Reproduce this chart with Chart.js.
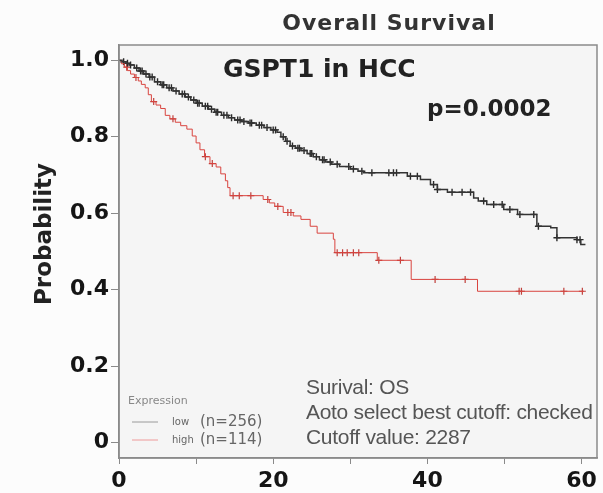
<!DOCTYPE html>
<html>
<head>
<meta charset="utf-8">
<script src="https://cdn.jsdelivr.net/npm/chart.js@4.4.1/dist/chart.umd.min.js"></script>
<style>
  html, body { margin: 0; padding: 0; background: #fcfcfc; }
</style>
</head>
<body>
<canvas id="myChart" width="603" height="493"></canvas>
<script>
// low expression group (n=256): step times (months) and survival after each step
var lowTimes = [0, 0.4, 0.9, 1.4, 2.0, 2.6, 3.2, 3.9, 4.6, 5.4, 6.2, 7.0, 7.8, 8.6, 9.3, 10.0, 10.8, 11.6, 12.4, 13.3,
  14.2, 15.0, 15.9, 16.8, 17.8, 18.8, 19.7, 20.5, 21.0, 21.6, 22.2, 22.9, 23.6, 24.4, 25.2, 26.0, 26.8, 27.6, 28.6, 30.0,
  31.0, 31.7, 37.4, 39.1, 40.4, 41.3, 42.6, 46.0, 46.6, 47.7, 49.9, 51.7, 54.2, 56.0, 56.8, 59.4, 59.9, 60.5];
var lowSurv = [1.0, 0.996, 0.992, 0.988, 0.980, 0.972, 0.964, 0.956, 0.944, 0.936, 0.928, 0.920, 0.912, 0.904, 0.896, 0.888, 0.880, 0.872, 0.864, 0.856,
  0.850, 0.844, 0.840, 0.836, 0.830, 0.824, 0.818, 0.812, 0.800, 0.788, 0.776, 0.770, 0.764, 0.756, 0.748, 0.740, 0.734, 0.728, 0.722, 0.716,
  0.710, 0.706, 0.697, 0.688, 0.675, 0.662, 0.655, 0.640, 0.632, 0.623, 0.610, 0.597, 0.566, 0.562, 0.536, 0.531, 0.518, 0.518];
var lowCensor = [0.6, 1.1, 1.5, 2.3, 2.8, 3.0, 3.5, 4.0, 4.3, 5.0, 5.6, 5.8, 6.5, 6.8, 7.4, 8.2, 8.5, 9.0, 9.7, 10.2, 10.4,
  11.2, 11.5, 12.0, 12.6, 12.8, 13.6, 14.0, 14.6, 15.4, 15.7, 16.2, 17.0, 17.2, 18.2, 18.5, 19.2, 20.0, 20.3, 21.3, 21.8,
  22.5, 23.2, 23.4, 24.0, 24.8, 25.0, 25.6, 26.4, 26.6, 27.4, 28.3, 29.8, 30.4, 31.5, 32.8, 35.0, 35.6, 36.0,
  37.8, 38.7, 40.8, 41.3, 43.2, 44.5, 45.6, 47.3, 48.6, 49.7, 50.7, 52.0, 53.8, 54.4, 56.8, 59.4, 59.8];

// high expression group (n=114)
var highTimes = [0, 0.3, 0.7, 1.1, 1.5, 2.0, 2.5, 2.9, 3.4, 3.8, 4.2, 4.8, 5.4, 6.0, 6.6, 7.3, 8.0, 8.8, 9.5, 10.0,
  10.5, 11.1, 11.8, 12.6, 13.2, 13.8, 14.1, 14.4, 18.7, 19.5, 20.2, 21.3, 22.6, 23.6, 24.8, 25.7, 27.8, 28.0, 33.5, 37.9,
  46.5, 60.3];
var highSurv = [1.0, 0.991, 0.982, 0.973, 0.964, 0.955, 0.946, 0.937, 0.928, 0.910, 0.892, 0.883, 0.874, 0.856, 0.847, 0.838, 0.829, 0.820, 0.802, 0.784,
  0.766, 0.748, 0.730, 0.721, 0.703, 0.685, 0.667, 0.646, 0.636, 0.627, 0.618, 0.602, 0.593, 0.584, 0.566, 0.548, 0.532, 0.497, 0.477, 0.427,
  0.396, 0.396];
var highCensor = [1.0, 2.2, 4.5, 7.0, 11.2, 12.1, 14.8, 15.6, 17.1, 19.3, 20.6, 21.9, 22.3, 28.3, 29.0, 29.6, 30.4, 31.1, 33.7, 36.5,
  41.0, 44.9, 51.9, 52.2, 57.7, 60.1];

var xTicks = [0, 10, 20, 30, 40, 50, 60];
var xTickLabels = ['0', '', '20', '', '40', '', '60'];
var yTicks = [0, 0.2, 0.4, 0.6, 0.8, 1.0];
var yTickLabels = ['0', '0.2', '0.4', '0.6', '0.8', '1.0'];

function survAt(times, surv, t) {
  var s = surv[0];
  for (var i = 0; i < times.length; i++) {
    if (times[i] <= t) s = surv[i];
  }
  return s;
}
function curve(times, surv) {
  return times.map(function (t, i) { return { x: t, y: surv[i] }; });
}
function marks(censor, times, surv) {
  return censor.map(function (t) { return { x: t, y: survAt(times, surv, t) }; });
}

var decor = {
  id: 'decor',
  beforeDraw: function (chart) {
    var c = chart.ctx, a = chart.chartArea;
    c.save();
    c.fillStyle = '#fcfcfc';
    c.fillRect(0, 0, chart.width, chart.height);
    c.fillStyle = '#f5f5f5';
    c.fillRect(a.left, a.top, a.right - a.left, a.bottom - a.top);
    c.restore();
  },
  afterDraw: function (chart) {
    var c = chart.ctx, a = chart.chartArea;
    c.save();
    // box
    c.strokeStyle = '#8a8a8a';
    c.lineWidth = 1.5;
    c.strokeRect(a.left, a.top, a.right - a.left, a.bottom - a.top);

    c.textBaseline = 'middle';
    // main title
    c.fillStyle = '#333';
    c.font = 'bold 22px "DejaVu Sans"';
    c.letterSpacing = '1px';
    c.textAlign = 'center';
    c.fillText('Overall Survival', 389, 24);
    c.letterSpacing = '0px';

    c.textAlign = 'left';
    c.fillStyle = '#222';
    c.font = 'bold 25px "DejaVu Sans"';
    c.fillText('GSPT1 in HCC', 223, 70);
    c.font = 'bold 23px "DejaVu Sans"';
    c.fillText('p=0.0002', 427, 110);

    // y axis title
    c.save();
    c.translate(45, 234);
    c.rotate(-Math.PI / 2);
    c.textAlign = 'center';
    c.font = 'bold 23px "DejaVu Sans"';
    c.fillStyle = '#222';
    c.fillText('Probability', 0, 0);
    c.restore();

    // notes
    c.fillStyle = '#555';
    c.font = '21px "Liberation Sans"';
    c.letterSpacing = '-0.3px';
    c.fillText('Surival: OS', 306, 388);
    c.fillText('Aoto select best cutoff: checked', 306, 413);
    c.fillText('Cutoff value: 2287', 306, 438);
    c.letterSpacing = '0px';

    // legend
    c.fillStyle = '#888';
    c.font = '11px "DejaVu Sans"';
    c.fillText('Expression', 128, 401);
    c.lineWidth = 1;
    c.strokeStyle = '#9a9a9a';
    c.beginPath(); c.moveTo(132, 422); c.lineTo(158, 422); c.stroke();
    c.strokeStyle = '#ee9a9a';
    c.beginPath(); c.moveTo(132, 440); c.lineTo(158, 440); c.stroke();
    c.fillStyle = '#666';
    c.font = '10px "DejaVu Sans"';
    c.fillText('low', 172, 422);
    c.fillText('high', 172, 440);
    c.font = '15px "DejaVu Sans"';
    c.fillText('(n=256)', 200, 422);
    c.fillText('(n=114)', 200, 440);
    c.restore();
  }
};

var ctx = document.getElementById('myChart');
var chart = new Chart(ctx, {
  type: 'scatter',
  data: {
    datasets: [{
      data: curve(lowTimes, lowSurv),
      showLine: true,
      stepped: true,
      borderColor: '#333',
      borderWidth: 1.5,
      pointRadius: 0
    }, {
      data: curve(highTimes, highSurv),
      showLine: true,
      stepped: true,
      borderColor: '#d9443f',
      borderWidth: 1,
      pointRadius: 0
    }, {
      data: marks(lowCensor, lowTimes, lowSurv),
      pointStyle: 'cross',
      pointRadius: 3.5,
      borderColor: '#2a2a2a',
      borderWidth: 1.4
    }, {
      data: marks(highCensor, highTimes, highSurv),
      pointStyle: 'cross',
      pointRadius: 3.5,
      borderColor: '#c0403c',
      borderWidth: 1.2
    }]
  },
  plugins: [decor],
  options: {
    responsive: false,
    animation: false,
    events: [],
    layout: { padding: { top: 45, right: 6, left: 0, bottom: 0 } },
    plugins: {
      legend: { display: false },
      title: { display: false },
      tooltip: { enabled: false }
    },
    scales: {
      x: {
        type: 'linear',
        min: 0,
        max: 62,
        afterBuildTicks: function (s) { s.ticks = xTicks.map(function (v) { return { value: v }; }); },
        afterFit: function (s) { s.height = 35; },
        ticks: {
          autoSkip: false,
          maxRotation: 0,
          padding: 4,
          color: '#151515',
          font: { family: 'DejaVu Sans', weight: 'bold', size: 22 },
          callback: function (v, i) { return xTickLabels[i]; }
        },
        grid: { drawOnChartArea: false, tickLength: 6, color: '#8a8a8a' },
        border: { color: '#8a8a8a', width: 1.5 }
      },
      y: {
        min: -0.04,
        max: 1.04,
        afterBuildTicks: function (s) { s.ticks = yTicks.map(function (v) { return { value: v }; }); },
        afterFit: function (s) { s.width = 119; },
        ticks: {
          padding: 2,
          color: '#151515',
          font: { family: 'DejaVu Sans', weight: 'bold', size: 22 },
          callback: function (v, i) { return yTickLabels[i]; }
        },
        grid: { drawOnChartArea: false, tickLength: 8, color: '#8a8a8a' },
        border: { color: '#8a8a8a', width: 1.5 }
      }
    }
  }
});
</script>
</body>
</html>
